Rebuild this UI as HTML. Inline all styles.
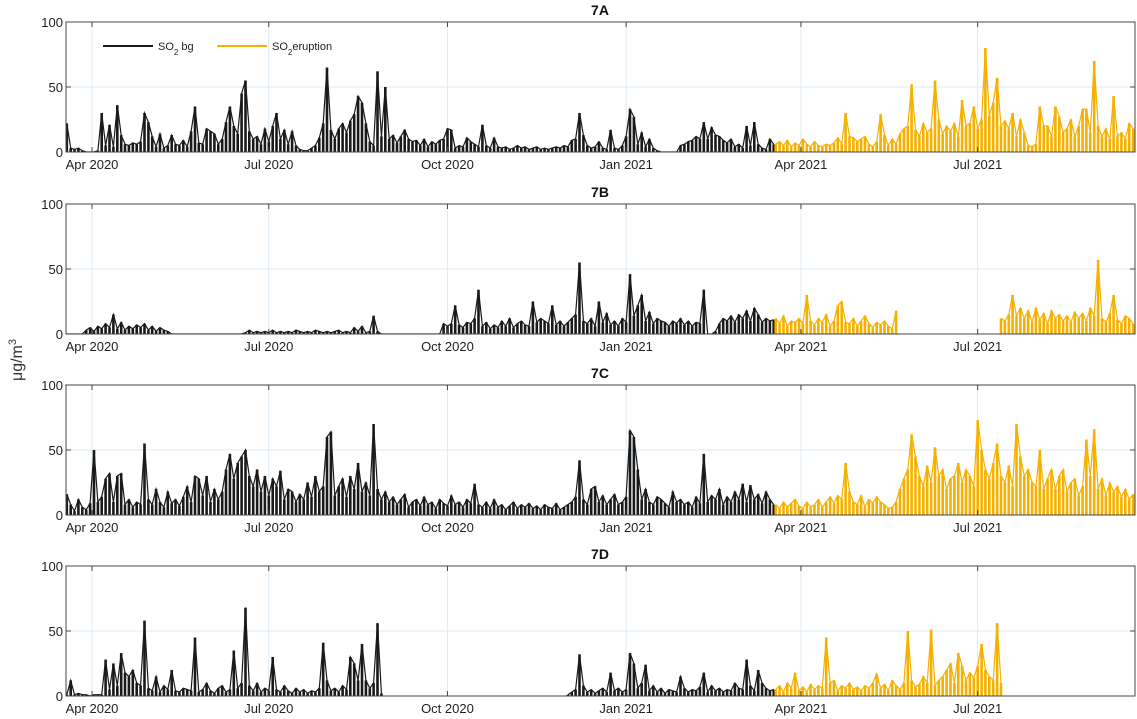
<!DOCTYPE html>
<html><head><meta charset="utf-8"><style>
body{margin:0;background:#fff;}
svg{display:block;font-family:"Liberation Sans",Arial,sans-serif;}
</style></head><body>
<svg id="chart" width="1137" height="719" viewBox="0 0 1137 719" xmlns="http://www.w3.org/2000/svg">
<text transform="translate(22,360) rotate(-90)" text-anchor="middle" font-size="16" fill="#333">μg/m<tspan baseline-shift="super" font-size="11">3</tspan></text>
</svg>
<script>
// day 0 = 1 Apr 2020; all series sampled every 2 days
const panelTitles = ["7A","7B","7C","7D"];
const xTickLabels = ["Apr 2020","Jul 2020","Oct 2020","Jan 2021","Apr 2021","Jul 2021"];
const xTickDays = [0,91,183,275,365,456];
const yTicks = [0,50,100];
const stepDays = 2;
const blackStartDay = -13;
const orangeStartDay = 352;

const aBlack = [22,3,2,3,1,0,0,0,1,30, 5,21,4,36,13,6,5,7,6,8, 30,23,12,4,14,3,5,13,6,5, 9,4,16,35,7,6,18,16,14,6, 10,23,35,20,14,45,55,16,10,12, 6,18,8,20,30,10,17,6,16,5, 2,1,1,3,5,11,22,65,17,10, 18,22,15,24,29,43,38,22,8,5, 62,12,50,10,13,7,12,17,10,8, 9,5,10,4,8,6,9,10,18,17, 3,5,4,11,8,6,4,21,5,3, 11,4,3,4,2,3,5,3,4,2, 3,4,2,3,2,3,4,3,5,4, 9,10,30,13,5,3,4,8,3,2, 17,3,2,5,12,33,27,6,15,4, 10,3,1,0,0,0,0,0,5,6, 8,9,12,10,23,10,19,13,12,9, 7,10,4,6,3,20,5,23,6,3, 2,10,6];
const aOrange = [6,8,5,9,4,7,5,10,6,4, 8,5,4,6,5,7,11,6,30,12, 11,8,10,12,6,4,8,29,13,5, 10,6,14,18,20,52,17,12,22,15, 18,55,25,14,20,16,22,12,40,20, 22,35,18,25,80,28,38,57,20,24, 18,30,12,25,15,5,4,6,35,20, 20,12,35,27,15,18,25,12,20,33, 33,15,70,20,12,18,10,43,12,15, 10,22,18];

const bBlack = [0,0,0,0,0,3,5,2,6,4, 8,5,15,4,9,3,6,4,7,5, 8,3,6,2,5,3,2,0,0,0, 0,0,0,0,0,0,0,0,0,0, 0,0,0,0,0,0,1,3,1,2, 1,2,1,3,1,2,1,2,1,3, 2,1,2,1,3,2,1,2,1,2, 3,1,2,1,5,2,6,1,2,14, 2,0,0,0,0,0,0,0,0,0, 0,0,0,0,0,0,0,8,6,8, 22,7,5,9,8,12,34,6,9,4, 7,5,10,6,12,5,8,10,7,6, 25,9,12,10,8,22,7,10,6,9, 12,15,55,10,8,12,6,25,9,16, 7,10,6,12,9,46,14,22,30,10, 17,8,12,10,9,6,10,8,12,7, 10,6,9,8,34,0,0,2,8,12, 10,14,9,15,12,18,10,20,15,9, 12,10,11];
const bOrange1 = [12,8,14,6,10,9,12,8,30,10, 7,12,9,15,6,10,22,25,9,8, 12,6,10,14,8,5,9,7,10,6, 4,18];
const bOrange2Start = 468;
const bOrange2 = [12,10,15,30,14,20,12,18,9,20, 11,16,8,18,12,15,10,14,9,17, 12,16,10,20,14,57,12,9,16,30, 11,8,14,12,8];

const cBlack = [16,8,3,12,6,4,9,50,10,14, 28,32,10,30,32,8,12,6,10,8, 55,12,8,20,10,6,18,9,12,7, 14,22,10,30,28,15,30,10,20,12, 18,35,47,28,40,45,50,30,22,35, 18,30,15,28,22,34,12,20,18,10, 16,12,25,14,30,18,22,60,64,15, 22,28,14,30,20,40,18,25,15,70, 20,12,18,10,14,8,12,16,6,10, 12,7,14,8,10,5,12,9,7,15, 8,10,6,12,9,24,8,6,10,5, 12,6,8,4,7,10,5,8,6,9, 5,7,4,8,6,5,9,4,6,8, 10,14,42,12,8,20,22,10,15,8, 12,16,8,10,14,65,60,35,12,20, 10,8,14,12,9,6,18,10,12,8, 10,6,14,9,47,10,15,12,20,8, 14,10,18,12,24,10,23,12,16,9, 18,12,8];
const cOrange = [8,5,10,6,9,12,7,5,10,6, 8,12,6,10,14,9,15,12,40,18, 10,8,15,6,12,9,14,10,8,5, 6,10,20,28,35,62,45,30,22,38, 25,52,30,35,20,28,30,40,25,35, 30,22,73,50,35,28,40,55,30,25, 38,22,70,45,30,35,25,22,50,20, 28,35,20,30,35,18,25,28,15,22, 58,30,66,20,28,15,25,18,22,14, 20,12,16];

const dBlack1 = [1,12,1,2,1,1,0,1,1,1, 28,5,25,8,33,18,15,20,10,8, 58,6,4,15,3,8,5,20,4,3, 6,5,4,45,3,5,10,4,2,6, 8,3,5,35,6,10,68,8,4,10, 3,6,4,30,5,3,8,4,2,6, 3,5,2,4,3,6,41,12,4,6, 3,8,5,30,25,12,40,12,6,10, 56,2];
const dBlack2Start = 245;
const dBlack2 = [1,3,5,32,8,3,5,2,4,6,3, 18,4,6,3,5,33,25,6,10,24, 4,8,3,6,2,5,4,3,15,6, 3,5,4,7,18,3,8,4,6,3, 5,4,10,6,5,28,8,4,20,10, 6,4,5];
const dOrange = [5,8,3,10,6,18,4,7,3,9, 5,8,6,45,10,12,4,8,6,10, 5,7,4,8,6,10,17,6,9,4, 12,8,5,10,50,12,7,9,15,10, 51,8,12,15,20,25,10,33,23,12, 18,14,23,40,20,15,12,56,10];

const NS = "http://www.w3.org/2000/svg";
const svg = document.getElementById('chart');
const X0 = 66, X1 = 1135;
const dayMin = -13.4, dayMax = 537;
function xScale(d){ return X0 + (d - dayMin) / (dayMax - dayMin) * (X1 - X0); }
const panelTops = [22, 204, 385, 566];
const plotH = 130;
const BLACK = "#1a1a1a", ORANGE = "#f5b000";

function mk(tag, attrs, parent){
  const e = document.createElementNS(NS, tag);
  for (const k in attrs) e.setAttribute(k, attrs[k]);
  (parent || svg).appendChild(e);
  return e;
}

const panels = [
  { series: [[blackStartDay, aBlack, BLACK], [orangeStartDay, aOrange, ORANGE]] },
  { series: [[blackStartDay, bBlack, BLACK], [orangeStartDay, bOrange1, ORANGE], [bOrange2Start, bOrange2, ORANGE]] },
  { series: [[blackStartDay, cBlack, BLACK], [orangeStartDay, cOrange, ORANGE]] },
  { series: [[blackStartDay, dBlack1, BLACK], [dBlack2Start, dBlack2, BLACK], [orangeStartDay, dOrange, ORANGE]] }
];

panels.forEach((p, pi) => {
  const top = panelTops[pi], bot = top + plotH;
  const yScale = v => bot - v / 100 * plotH;
  const g = mk('g', {});
  
  
  xTickDays.forEach(d => {
    const gl = mk('line', {x1: xScale(d), x2: xScale(d), y1: top, y2: bot, stroke: "#dcebf5", 'stroke-width': 1}, g);
    
    
  });
  const hg = mk('line', {x1: X0, x2: X1, y1: yScale(50), y2: yScale(50), stroke: "#dcebf5", 'stroke-width': 1}, g);
  
  
  const cid = 'clip' + pi;
  const cp = mk('clipPath', {id: cid}, g);
  mk('rect', {x: X0, y: top, width: X1 - X0, height: plotH}, cp);
  p.series.forEach(([start, vals, col]) => {
    let dStem = '';
    vals.forEach((v, i) => {
      const x = xScale(start + i * stepDays).toFixed(1);
      dStem += 'M' + x + ',' + bot + 'V' + yScale(v).toFixed(1);
    });
    const st = mk('path', {d: dStem, fill: 'none', stroke: col, 'stroke-width': 2.6, 'clip-path': 'url(#' + cid + ')'}, g);
    
    
    const pts = vals.map((v, i) => xScale(start + i * stepDays).toFixed(1) + ',' + yScale(v).toFixed(1)).join(' ');
    const pl = mk('polyline', {points: pts, fill: 'none', stroke: col, 'stroke-width': 1.2, 'clip-path': 'url(#' + cid + ')'}, g);
    
    
  });
  const box = mk('rect', {x: X0, y: top, width: X1 - X0, height: plotH, fill: 'none', stroke: '#444', 'stroke-width': 1}, g);
  
  
  xTickDays.forEach((d, k) => {
    mk('line', {x1: xScale(d), x2: xScale(d), y1: bot, y2: bot - 5, stroke: '#444'}, g);
    mk('line', {x1: xScale(d), x2: xScale(d), y1: top, y2: top + 5, stroke: '#444'}, g);
    const t = mk('text', {x: xScale(d), y: bot + 17, 'text-anchor': 'middle', 'font-size': 13, fill: '#222'}, g);
    
    
    t.textContent = xTickLabels[k];
  });
  yTicks.forEach(v => {
    mk('line', {x1: X0, x2: X0 + 5, y1: yScale(v), y2: yScale(v), stroke: '#444'}, g);
    mk('line', {x1: X1, x2: X1 - 5, y1: yScale(v), y2: yScale(v), stroke: '#444'}, g);
    const t = mk('text', {x: X0 - 3, y: yScale(v) + 5, 'text-anchor': 'end', 'font-size': 13, fill: '#222'}, g);
    
    
    t.textContent = v;
  });
  const ti = mk('text', {x: 600, y: top - 7, 'text-anchor': 'middle', 'font-size': 14, 'font-weight': 'bold', fill: '#111'}, g);
  
  
  ti.textContent = panelTitles[pi];
});

const lg = mk('g', {});


mk('line', {x1: 103, x2: 153, y1: 46, y2: 46, stroke: BLACK, 'stroke-width': 2}, lg);
const l1 = mk('text', {x: 158, y: 50, 'font-size': 11, fill: '#222'}, lg);


l1.innerHTML = 'SO<tspan baseline-shift="sub" font-size="8">2</tspan> bg';
mk('line', {x1: 217, x2: 267, y1: 46, y2: 46, stroke: ORANGE, 'stroke-width': 2}, lg);
const l2 = mk('text', {x: 272, y: 50, 'font-size': 11, fill: '#222'}, lg);


l2.innerHTML = 'SO<tspan baseline-shift="sub" font-size="8">2</tspan>eruption';
</script>
</body></html>
